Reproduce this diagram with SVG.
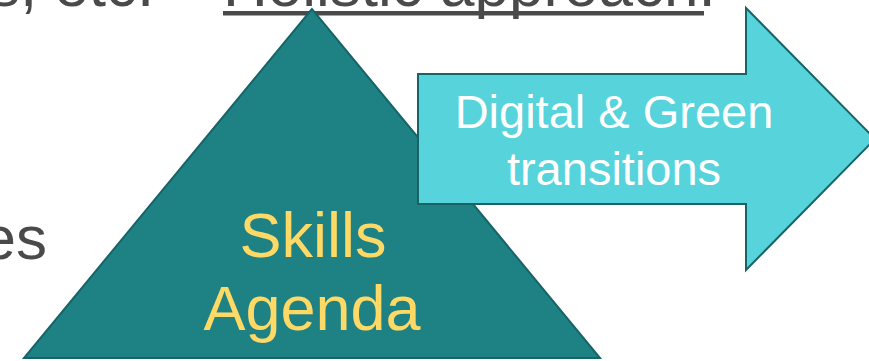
<svg xmlns="http://www.w3.org/2000/svg" width="869" height="361" viewBox="0 0 869 361">
<style>
.body{font-family:"Liberation Sans",Arial,sans-serif;fill:#4a4a4a;font-size:62px}
.lbl{font-family:"Liberation Sans",Arial,sans-serif;text-anchor:middle}
</style>
<rect width="869" height="361" fill="#ffffff"/>
<g id="background-text">
<text class="body" x="206" y="6" text-anchor="end">es, etc. –</text>
<text class="body" x="223" y="6">Holistic approach.</text>
<rect x="223" y="11" width="481" height="4.5" fill="#4a4a4a"/>
<text class="body" x="47" y="259" text-anchor="end">es</text>
</g>
<g id="skills-agenda">
<polygon points="312,9 24,358 600,358" fill="#1e8285" stroke="#176468" stroke-width="2" stroke-linejoin="miter"/>
<text class="lbl" x="313" y="257" font-size="63" fill="#ffd966">Skills</text>
<text class="lbl" x="312" y="330" font-size="63" fill="#ffd966">Agenda</text>
</g>
<g id="transitions">
<polygon points="418,74 746,74 746,8 875,139 746,270 746,204 418,204" fill="#57d3db" stroke="#176468" stroke-width="2"/>
<text class="lbl" x="614" y="128" font-size="47" fill="#ffffff">Digital &amp; Green</text>
<text class="lbl" x="614" y="185" font-size="47" fill="#ffffff">transitions</text>
</g>
<g id="connectors"/>
</svg>
